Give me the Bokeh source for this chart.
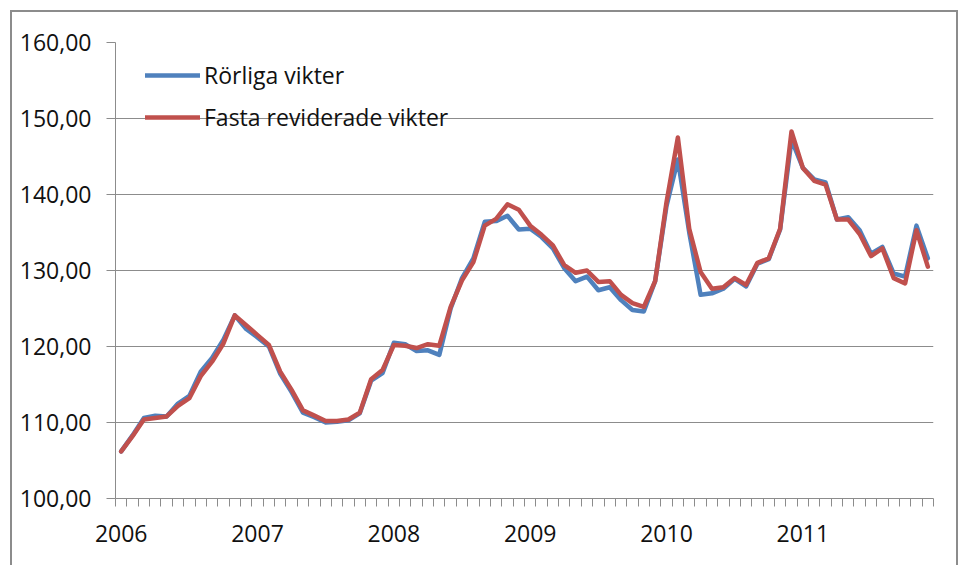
from bokeh.plotting import figure
from bokeh.models import Range1d, FixedTicker, Legend, LegendItem, ColumnDataSource
from bokeh.embed import file_html
from bokeh.resources import INLINE

years = ["2006", "2007", "2008", "2009", "2010", "2011"]
months = list(range(72))

rorliga = [106.2, 108.3, 110.6, 110.9, 110.8, 112.5, 113.5, 116.7, 118.5, 120.9, 124.1, 122.3,
           121.2, 120.0, 116.4, 114.0, 111.3, 110.7, 110.0, 110.1, 110.3, 111.2, 115.5, 116.5,
           120.5, 120.3, 119.4, 119.5, 118.9, 125.0, 129.0, 131.6, 136.4, 136.5, 137.2, 135.4,
           135.5, 134.4, 132.9, 130.3, 128.6, 129.2, 127.4, 127.8, 126.1, 124.8, 124.6, 128.6,
           138.5, 144.6, 135.0, 126.8, 127.0, 127.6, 128.9, 127.9, 130.9, 131.5, 135.4, 147.2,
           143.5, 142.0, 141.6, 136.7, 137.0, 135.3, 132.2, 133.1, 129.6, 129.2, 135.9, 131.6]

fasta = [106.2, 108.2, 110.4, 110.6, 110.8, 112.2, 113.2, 116.1, 118.0, 120.4, 124.1, 122.8,
         121.5, 120.2, 116.7, 114.3, 111.6, 110.9, 110.2, 110.2, 110.4, 111.3, 115.7, 116.9,
         120.2, 120.1, 119.8, 120.3, 120.1, 125.2, 128.7, 131.1, 135.9, 136.8, 138.7, 138.0,
         135.9, 134.7, 133.3, 130.7, 129.7, 130.0, 128.5, 128.6, 126.8, 125.7, 125.2, 128.6,
         139.0, 147.5, 135.5, 129.8, 127.6, 127.8, 129.0, 128.1, 131.0, 131.6, 135.5, 148.3,
         143.5, 141.8, 141.3, 136.7, 136.7, 134.8, 131.9, 132.9, 129.0, 128.3, 135.3, 130.5]

y_ticks = [100, 110, 120, 130, 140, 150, 160]
y_labels = {t: f"{t},00" for t in y_ticks}

FONT = "Open Sans"
GRID = "#8c8c8c"
FS = "23px"

p = figure(width=948, height=555, output_backend="svg", toolbar_location=None,
           x_range=Range1d(-0.5, 71.5), y_range=Range1d(100, 160),
           min_border_left=103, min_border_right=27, min_border_top=30, min_border_bottom=69)
p.margin = (10, 0, 0, 10)
p.styles = {"border-left": "2px solid #8c8c8c", "border-top": "2px solid #8c8c8c",
            "border-right": "2px solid #8c8c8c"}
p.outline_line_color = None
p.background_fill_color = "white"
p.border_fill_color = "white"

src = ColumnDataSource(dict(x=months, r=rorliga, f=fasta))
r1 = p.line("x", "r", source=src, line_color="#4F81BD", line_width=4.5, line_join="round", line_cap="round")
r2 = p.line("x", "f", source=src, line_color="#C0504D", line_width=4.5, line_join="round", line_cap="round")

# x axis
xa = p.xaxis[0]
label_pos = [12 * i for i in range(len(years))]
xa.ticker = FixedTicker(ticks=label_pos, minor_ticks=[m - 0.5 for m in range(73)])
xa.major_label_overrides = {pos: y for pos, y in zip(label_pos, years)}
xa.major_tick_line_color = None
xa.major_tick_out = 0
xa.major_tick_in = 0
xa.minor_tick_out = 8
xa.minor_tick_in = 0
xa.minor_tick_line_color = GRID
xa.axis_line_color = GRID
xa.major_label_standoff = 18
xa.major_label_text_font = FONT
xa.major_label_text_font_size = FS
xa.major_label_text_color = "#111111"

# y axis
ya = p.yaxis[0]
ya.ticker = FixedTicker(ticks=y_ticks, minor_ticks=[])
ya.major_label_overrides = y_labels
ya.major_tick_out = 9
ya.major_tick_in = 0
ya.major_tick_line_color = GRID
ya.minor_tick_line_color = None
ya.axis_line_color = GRID
ya.major_label_standoff = 15
ya.major_label_text_font = FONT
ya.major_label_text_font_size = FS
ya.major_label_text_color = "#111111"

p.xgrid.grid_line_color = None
p.ygrid.grid_line_color = GRID
p.ygrid.grid_line_width = 1

legend = Legend(items=[LegendItem(label="Rörliga vikter", renderers=[r1]),
                       LegendItem(label="Fasta reviderade vikter", renderers=[r2])],
                location=(30, 360), orientation="vertical")
legend.background_fill_alpha = 0
legend.border_line_color = None
legend.padding = 0
legend.margin = 0
legend.spacing = 0
legend.glyph_width = 55
legend.glyph_height = 42
legend.label_height = 42
legend.label_standoff = 4
legend.label_text_font = FONT
legend.label_text_font_size = FS
legend.label_text_color = "#111111"
p.add_layout(legend, "center")

open("out.html", "w").write(file_html(p, INLINE))
